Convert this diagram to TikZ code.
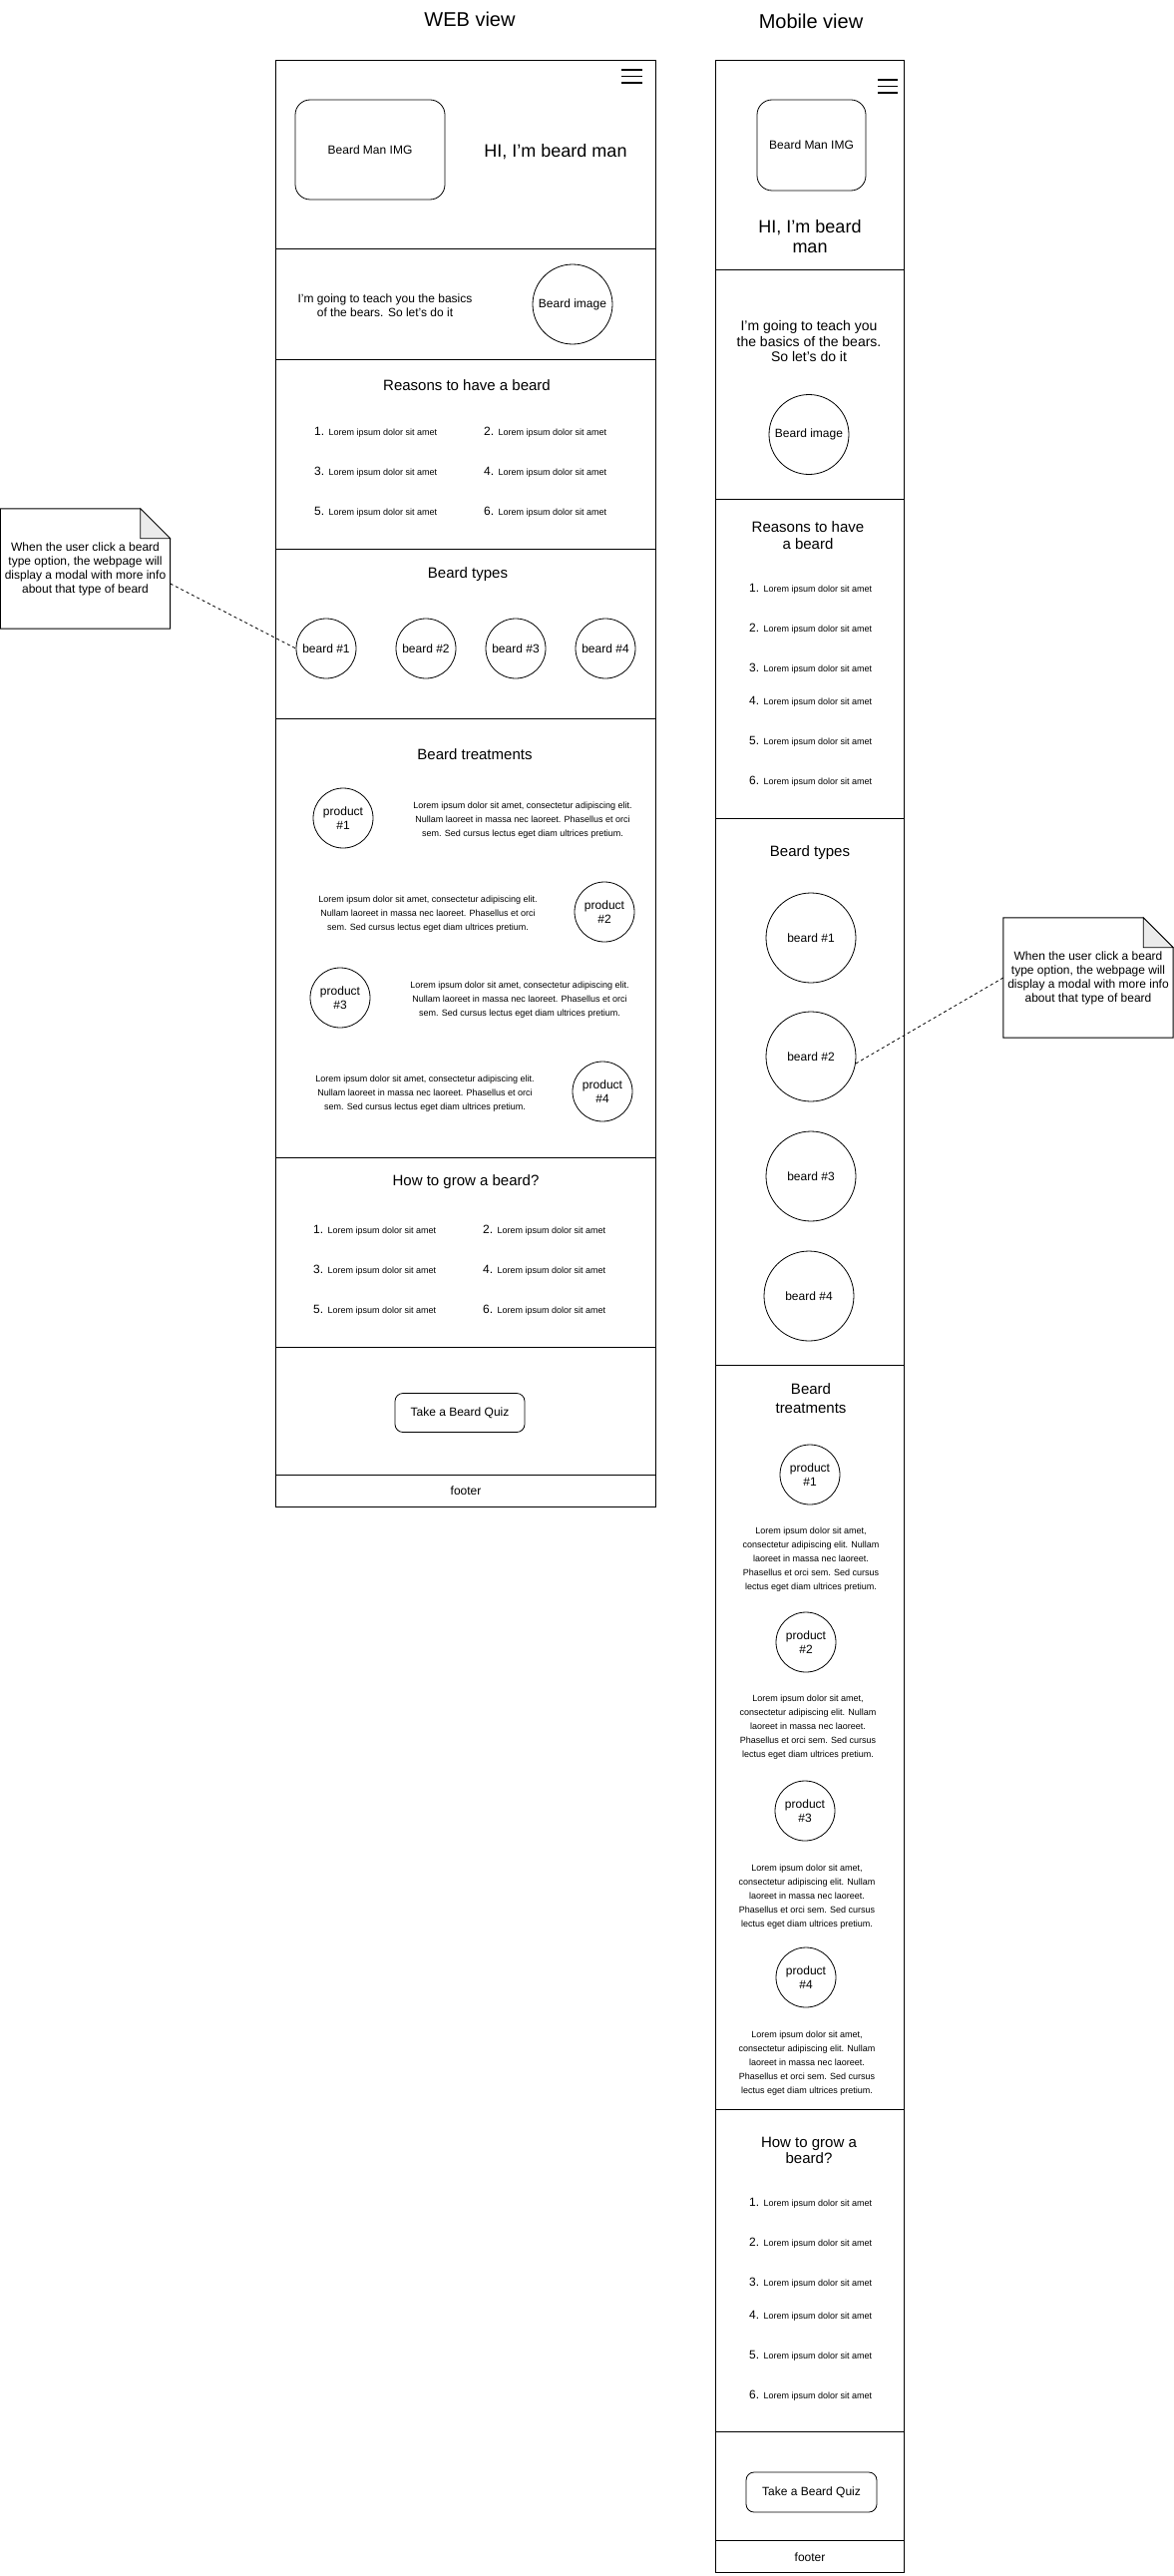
\documentclass[tikz,border=0pt]{standalone}
\usepackage{fontspec}
\setmainfont{Liberation Sans}
\newcommand{\lorli}[1]{{\fontsize{12}{14}\selectfont #1. }{\fontsize{9}{11}\selectfont Lorem ipsum dolor sit amet}}
\newcommand{\webtxt}{Lorem ipsum dolor sit amet, consectetur adipiscing elit.\\Nullam laoreet in massa nec laoreet. Phasellus et orci\\sem. Sed cursus lectus eget diam ultrices pretium.}
\newcommand{\mobtxt}{Lorem ipsum dolor sit amet,\\consectetur adipiscing elit. Nullam\\laoreet in massa nec laoreet.\\Phasellus et orci sem. Sed cursus\\lectus eget diam ultrices pretium.}
\newcommand{\notetxt}{When the user click a beard\\type option, the webpage will\\display a modal with more info\\about that type of beard}
\begin{document}
\begin{tikzpicture}[x=1pt,y=-1pt,
  frame/.style={draw=black, line width=1pt},
  txt/.style 2 args={inner sep=0pt, align=center, font=\fontsize{#1}{#2}\selectfont},
  circ/.style={draw=black, line width=0.8pt, circle, inner sep=0pt, minimum size=#1, align=center, font=\fontsize{12}{14.5}\selectfont},
  imgbox/.style={draw=black, line width=0.8pt, rounded corners=15pt, inner sep=0pt, align=center, font=\fontsize{12}{14}\selectfont},
  btn/.style={draw=black, line width=0.8pt, rounded corners=8pt, inner sep=0pt, minimum width=130pt, minimum height=39pt, font=\fontsize{12}{14}\selectfont},
  litem/.style={inner sep=0pt, anchor=base west, yshift=-3.5pt},
  prodtxt/.style={inner sep=0pt, align=center, font=\fontsize{9}{14}\selectfont},
  notebox/.style={inner sep=0pt, minimum width=170pt, minimum height=120pt, align=center, font=\fontsize{12}{14}\selectfont},
  conn/.style={draw=black, line width=0.8pt, dash pattern=on 3pt off 3pt},
  burger/.style={draw=black, line width=1.3pt}
]
\useasboundingbox (0,0) rectangle (1177,2582);

% ================= WEB VIEW =================
\node[txt={20}{24}] (webtitle) at (471,19) {WEB view};
\draw[frame] (276,61) rectangle (657,1510);
\foreach \yy in {250,360,550,720,1160,1350,1478} \draw[frame] (276,\yy) -- (657,\yy);
% hamburger
\foreach \yy in {70,76.5,83} \draw[burger] (623,\yy) -- (644,\yy);
% header
\node[imgbox, minimum width=150pt, minimum height=100pt] (wimg) at (371,150) {Beard Man IMG};
\node[txt={18}{21}] (whi) at (557,152) {HI, I'm beard man};
% intro
\node[txt={12}{14}] (wintro) at (386,306) {I'm going to teach you the basics\\of the bears. So let's do it};
\node[circ=80pt] (wbimg) at (574,305) {Beard image};
% reasons
\node[txt={15}{18}] (wreasons) at (468,386) {Reasons to have a beard};
\foreach \n/\x/\y in {1/315/433,2/485/433,3/315/473,4/485/473,5/315/513,6/485/513}
  \node[litem] (wr\n) at (\x,\y) {\lorli{\n}};
% beard types
\node[txt={15}{18}] (wtypes) at (469,576) {Beard types};
\node[circ=60pt] (wb1) at (327,650) {beard \#1};
\node[circ=60pt] (wb2) at (427,650) {beard \#2};
\node[circ=60pt] (wb3) at (517,650) {beard \#3};
\node[circ=60pt] (wb4) at (607,650) {beard \#4};
% treatments
\node[txt={15}{18}] (wtreat) at (476,756) {Beard treatments};
\node[circ=60pt] (wp1) at (344,820) {product\\\#1};
\node[prodtxt] (wt1) at (524,822) {\webtxt};
\node[circ=60pt] (wp2) at (606,914) {product\\\#2};
\node[prodtxt] (wt2) at (429,916) {\webtxt};
\node[circ=60pt] (wp3) at (341,1000) {product\\\#3};
\node[prodtxt] (wt3) at (521,1002) {\webtxt};
\node[circ=60pt] (wp4) at (604,1094) {product\\\#4};
\node[prodtxt] (wt4) at (426,1096) {\webtxt};
% grow
\node[txt={15}{18}] (wgrow) at (467,1185) {How to grow a beard?};
\foreach \n/\x/\y in {1/314/1233,2/484/1233,3/314/1273,4/484/1273,5/314/1313,6/484/1313}
  \node[litem] (wg\n) at (\x,\y) {\lorli{\n}};
% quiz
\node[btn] (wquiz) at (461,1416) {Take a Beard Quiz};
\node[txt={12}{14}] (wfooter) at (467,1494) {footer};

% left note
\node[notebox] (noteL) at (85.5,570) {\notetxt};
\draw[frame] (noteL.north west) -- ([xshift=-30pt]noteL.north east) -- ([yshift=-30pt]noteL.north east) -- (noteL.south east) -- (noteL.south west) -- cycle;
\draw[line width=0.8pt, fill=black!8] ([xshift=-30pt]noteL.north east) -- ([xshift=-30pt,yshift=-30pt]noteL.north east) -- ([yshift=-30pt]noteL.north east) -- cycle;
\draw[conn] ([yshift=-15pt]noteL.east) -- (wb1.west);

% ================= MOBILE VIEW =================
\node[txt={20}{24}] (mobtitle) at (813,21) {Mobile view};
\draw[frame] (717,61) rectangle (906,2578);
\foreach \yy in {271,500,820,1368,2114,2437,2546} \draw[frame] (717,\yy) -- (906,\yy);
\foreach \yy in {80,86.5,93} \draw[burger] (880,\yy) -- (900,\yy);
\node[imgbox, minimum width=109pt, minimum height=91pt] (mimg) at (813.5,145.5) {Beard Man IMG};
\node[txt={18}{20}] (mhi) at (812,237) {HI, I'm beard\\man};
\node[txt={14}{15.7}] (mintro) at (811,342) {I'm going to teach you\\the basics of the bears.\\So let's do it};
\node[circ=80pt] (mbimg) at (811,435.5) {Beard image};
% reasons
\node[txt={15}{17}] (mreasons) at (810,536.5) {Reasons to have\\a beard};
\foreach \n/\y in {1/590,2/630,3/670,4/703,5/743,6/783}
  \node[litem] (mr\n) at (751,\y) {\lorli{\n}};
% beard types
\node[txt={15}{18}] (mtypes) at (812,855) {Beard types};
\node[circ=90pt] (mb1) at (813,940) {beard \#1};
\node[circ=90pt] (mb2) at (813,1059) {beard \#2};
\node[circ=90pt] (mb3) at (813,1179) {beard \#3};
\node[circ=90pt] (mb4) at (811,1299) {beard \#4};
% treatments
\node[txt={15}{19}] (mtreat) at (813,1401.5) {Beard\\treatments};
\node[circ=60pt] (mp1) at (812,1478) {product\\\#1};
\node[prodtxt] (mt1) at (813,1563) {\mobtxt};
\node[circ=60pt] (mp2) at (808,1646) {product\\\#2};
\node[prodtxt] (mt2) at (810,1731) {\mobtxt};
\node[circ=60pt] (mp3) at (807,1815) {product\\\#3};
\node[prodtxt] (mt3) at (809,1901) {\mobtxt};
\node[circ=60pt] (mp4) at (808,1982) {product\\\#4};
\node[prodtxt] (mt4) at (809,2068) {\mobtxt};
% grow
\node[txt={15}{16.5}] (mgrow) at (811,2155.5) {How to grow a\\beard?};
\foreach \n/\y in {1/2208,2/2248,3/2288,4/2321,5/2361,6/2401}
  \node[litem] (mg\n) at (751,\y) {\lorli{\n}};
% quiz
\node[btn, minimum width=131pt, minimum height=40pt] (mquiz) at (813.5,2498) {Take a Beard Quiz};
\node[txt={12}{14}] (mfooter) at (812,2563) {footer};

% right note
\node[notebox] (noteR) at (1091,980) {\notetxt};
\draw[frame] (noteR.north west) -- ([xshift=-30pt]noteR.north east) -- ([yshift=-30pt]noteR.north east) -- (noteR.south east) -- (noteR.south west) -- cycle;
\draw[line width=0.8pt, fill=black!8] ([xshift=-30pt]noteR.north east) -- ([xshift=-30pt,yshift=-30pt]noteR.north east) -- ([yshift=-30pt]noteR.north east) -- cycle;
\draw[conn] (noteR.west) -- (mb2.-9);
\end{tikzpicture}
\end{document}
